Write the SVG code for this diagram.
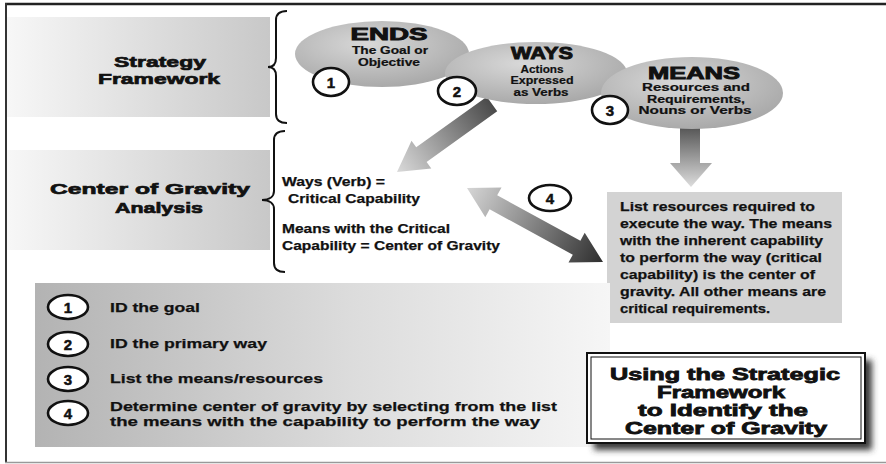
<svg xmlns="http://www.w3.org/2000/svg" width="886" height="464" viewBox="0 0 886 464">
  <defs>
    <linearGradient id="band" x1="0" y1="0" x2="1" y2="0">
      <stop offset="0" stop-color="#f7f7f7"/>
      <stop offset="1" stop-color="#c8c8c8"/>
    </linearGradient>
    <linearGradient id="listBand" x1="0" y1="0" x2="1" y2="0">
      <stop offset="0" stop-color="#b3b3b3"/>
      <stop offset="0.55" stop-color="#dcdcdc"/>
      <stop offset="1" stop-color="#f6f6f6"/>
    </linearGradient>
    <radialGradient id="oval" cx="0.42" cy="0.35" r="0.7">
      <stop offset="0" stop-color="#d8d8d8"/>
      <stop offset="1" stop-color="#a6a6a6"/>
    </radialGradient>
    <linearGradient id="gradWays" gradientUnits="userSpaceOnUse" x1="492" y1="104" x2="397" y2="172">
      <stop offset="0" stop-color="#4a4a4a"/>
      <stop offset="1" stop-color="#dadada"/>
    </linearGradient>
    <linearGradient id="gradMeans" gradientUnits="userSpaceOnUse" x1="0" y1="125" x2="0" y2="187">
      <stop offset="0" stop-color="#505050"/>
      <stop offset="1" stop-color="#dddddd"/>
    </linearGradient>
    <linearGradient id="gradCog" gradientUnits="userSpaceOnUse" x1="467" y1="188" x2="603" y2="262">
      <stop offset="0" stop-color="#d6d6d6"/>
      <stop offset="1" stop-color="#2e2e2e"/>
    </linearGradient>
    <filter id="soft" x="-10%" y="-10%" width="130%" height="130%">
      <feGaussianBlur stdDeviation="3"/>
    </filter>
  </defs>
  <style>
    text { font-family: "Liberation Sans", Arial, sans-serif; font-weight: bold; fill: #111; stroke: #111; stroke-width: 0.25; }
    .lbl { font-size: 15.5px; text-anchor: middle; stroke-width: 0.7; }
    .head { font-size: 17px; text-anchor: middle; stroke-width: 0.9; }
    .sub { font-size: 10px; text-anchor: middle; stroke-width: 0.2; }
    .num { font-size: 15px; text-anchor: middle; stroke-width: 0.5; }
    .brace { fill: none; stroke: #111; stroke-width: 2; }
    .ring { fill: #fff; stroke: #111; stroke-width: 2.6; }
    .note { font-size: 13px; }
    .item { font-size: 13.5px; }
    .title { font-size: 16.5px; text-anchor: middle; stroke-width: 0.8; }
  </style>

  <!-- page frame -->
  <g id="frame">
    <rect x="0" y="0" width="886" height="464" fill="#fff"/>
    <line x1="5" y1="4" x2="886" y2="4" stroke="#222" stroke-width="2.5"/>
    <line x1="6" y1="3" x2="6" y2="463" stroke="#333" stroke-width="2"/>
    <line x1="5" y1="462.5" x2="886" y2="462.5" stroke="#999" stroke-width="1.5"/>
  </g>

  <!-- left-hand row labels -->
  <g id="strategy-framework">
    <rect x="7" y="17" width="263" height="100" fill="url(#band)"/>
    <text class="lbl" x="160" y="67" textLength="92" lengthAdjust="spacingAndGlyphs">Strategy</text>
    <text class="lbl" x="159" y="84" textLength="122" lengthAdjust="spacingAndGlyphs">Framework</text>
  </g>
  <g id="cog-analysis">
    <rect x="7" y="150" width="263" height="100" fill="url(#band)"/>
    <text class="lbl" x="150" y="194" textLength="200" lengthAdjust="spacingAndGlyphs">Center of Gravity</text>
    <text class="lbl" x="159" y="213" textLength="88" lengthAdjust="spacingAndGlyphs">Analysis</text>
  </g>

  <!-- braces -->
  <g id="braces">
    <path class="brace" d="M287,11 C280,11 276,14 276,20 L276,58 C276,64 273,67 268,67 C273,67 276,70 276,76 L276,114 C276,120 280,123 287,123"/>
    <path class="brace" d="M285,131 C278,131 274,134 274,140 L274,191 C274,197 269,200 262,200 C269,200 274,203 274,209 L274,263 C274,269 278,272 285,272"/>
  </g>

  <!-- connectors -->
  <g id="connectors">
    <polygon fill="url(#gradWays)" points="486.8,96.7 497.2,111.3 426.6,161.9 431.3,168.4 397,172 411.5,140.8 416.2,147.3"/>
    <polygon fill="url(#gradMeans)" points="680,118 700,118 700,163 712,163 691,187 670,163 680,163"/>
    <polygon fill="url(#gradCog)" points="467,188 501.5,187.4 497.2,195.3 580.4,240.7 584.7,232.8 603,262 568.5,262.6 572.8,254.7 489.6,209.3 485.3,217.2"/>
  </g>

  <!-- strategy ovals -->
  <g id="ends">
    <ellipse cx="382" cy="54" rx="87" ry="33" fill="url(#oval)"/>
    <text class="head" x="389" y="40" textLength="77" lengthAdjust="spacingAndGlyphs">ENDS</text>
    <text class="sub" x="390" y="54" textLength="76" lengthAdjust="spacingAndGlyphs">The Goal or</text>
    <text class="sub" x="389" y="66" textLength="62" lengthAdjust="spacingAndGlyphs">Objective</text>
  </g>
  <g id="ways">
    <ellipse cx="536" cy="73" rx="91" ry="31" fill="url(#oval)"/>
    <text class="head" x="542" y="59" textLength="62" lengthAdjust="spacingAndGlyphs">WAYS</text>
    <text class="sub" x="542" y="72.5" textLength="43" lengthAdjust="spacingAndGlyphs">Actions</text>
    <text class="sub" x="542" y="84" textLength="63" lengthAdjust="spacingAndGlyphs">Expressed</text>
    <text class="sub" x="541" y="95.5" textLength="55" lengthAdjust="spacingAndGlyphs">as Verbs</text>
  </g>
  <g id="means">
    <ellipse cx="692" cy="93" rx="91" ry="36" fill="url(#oval)"/>
    <text class="head" x="694" y="79" font-size="18" textLength="92" lengthAdjust="spacingAndGlyphs">MEANS</text>
    <text class="sub" x="696" y="91" textLength="108" lengthAdjust="spacingAndGlyphs">Resources and</text>
    <text class="sub" x="696" y="102.5" textLength="98" lengthAdjust="spacingAndGlyphs">Requirements,</text>
    <text class="sub" x="695" y="114" textLength="113" lengthAdjust="spacingAndGlyphs">Nouns or Verbs</text>
  </g>

  <!-- numbered markers -->
  <g id="marker-1">
    <ellipse class="ring" cx="331" cy="82" rx="18" ry="14"/>
    <text class="num" x="331" y="88">1</text>
  </g>
  <g id="marker-2">
    <ellipse class="ring" cx="457" cy="91" rx="19" ry="14"/>
    <text class="num" x="457" y="97">2</text>
  </g>
  <g id="marker-3">
    <ellipse class="ring" cx="610" cy="110" rx="18" ry="14"/>
    <text class="num" x="610" y="116">3</text>
  </g>
  <g id="marker-4">
    <ellipse class="ring" cx="550" cy="198" rx="21" ry="13"/>
    <text class="num" x="550" y="204">4</text>
  </g>

  <!-- centre of gravity definitions -->
  <g id="cog-definitions">
    <text class="note" x="282" y="186" textLength="103" lengthAdjust="spacingAndGlyphs">Ways (Verb) =</text>
    <text class="note" x="288" y="203" textLength="132" lengthAdjust="spacingAndGlyphs">Critical Capability</text>
    <text class="note" x="282" y="233" textLength="168" lengthAdjust="spacingAndGlyphs">Means with the Critical</text>
    <text class="note" x="282" y="250" textLength="218" lengthAdjust="spacingAndGlyphs">Capability = Center of Gravity</text>
  </g>

  <!-- resources note -->
  <g id="resources-note">
    <rect x="607" y="192" width="235" height="131" fill="#d3d3d3"/>
    <text class="note" x="620" y="211" textLength="195" lengthAdjust="spacingAndGlyphs">List resources required to</text>
    <text class="note" x="620" y="228" textLength="212" lengthAdjust="spacingAndGlyphs">execute the way. The means</text>
    <text class="note" x="620" y="245" textLength="203" lengthAdjust="spacingAndGlyphs">with the inherent capability</text>
    <text class="note" x="620" y="262" textLength="202" lengthAdjust="spacingAndGlyphs">to perform the way (critical</text>
    <text class="note" x="620" y="279" textLength="195" lengthAdjust="spacingAndGlyphs">capability) is the center of</text>
    <text class="note" x="620" y="296" textLength="206" lengthAdjust="spacingAndGlyphs">gravity. All other means are</text>
    <text class="note" x="620" y="313" textLength="150" lengthAdjust="spacingAndGlyphs">critical requirements.</text>
  </g>

  <!-- step list -->
  <g id="step-list">
    <rect x="35" y="283" width="575" height="164" fill="url(#listBand)"/>
    <ellipse class="ring" cx="68" cy="307" rx="20" ry="12"/>
    <text class="num" x="68" y="313">1</text>
    <text class="item" x="110" y="312" textLength="90" lengthAdjust="spacingAndGlyphs">ID the goal</text>
    <ellipse class="ring" cx="68" cy="344" rx="20" ry="12"/>
    <text class="num" x="68" y="350">2</text>
    <text class="item" x="110" y="348" textLength="157" lengthAdjust="spacingAndGlyphs">ID the primary way</text>
    <ellipse class="ring" cx="68" cy="379" rx="20" ry="12"/>
    <text class="num" x="68" y="385">3</text>
    <text class="item" x="110" y="383" textLength="213" lengthAdjust="spacingAndGlyphs">List the means/resources</text>
    <ellipse class="ring" cx="68" cy="413" rx="20" ry="12"/>
    <text class="num" x="68" y="419">4</text>
    <text class="item" x="110" y="411" textLength="447" lengthAdjust="spacingAndGlyphs">Determine center of gravity by selecting from the list</text>
    <text class="item" x="110" y="426" textLength="430" lengthAdjust="spacingAndGlyphs">the means with the capability to perform the way</text>
  </g>

  <!-- title panel -->
  <g id="title">
    <rect x="594" y="360" width="278" height="90" fill="#3a3a3a" filter="url(#soft)"/>
    <rect x="587" y="353" width="278" height="90" fill="#fff" stroke="#111" stroke-width="2"/>
    <rect x="591" y="357" width="270" height="82" fill="none" stroke="#111" stroke-width="1"/>
    <text class="title" x="725" y="380" textLength="230" lengthAdjust="spacingAndGlyphs">Using the Strategic</text>
    <text class="title" x="721" y="398" textLength="128" lengthAdjust="spacingAndGlyphs">Framework</text>
    <text class="title" x="723" y="416" textLength="170" lengthAdjust="spacingAndGlyphs">to Identify the</text>
    <text class="title" x="726" y="434" textLength="202" lengthAdjust="spacingAndGlyphs">Center of Gravity</text>
  </g>
</svg>
